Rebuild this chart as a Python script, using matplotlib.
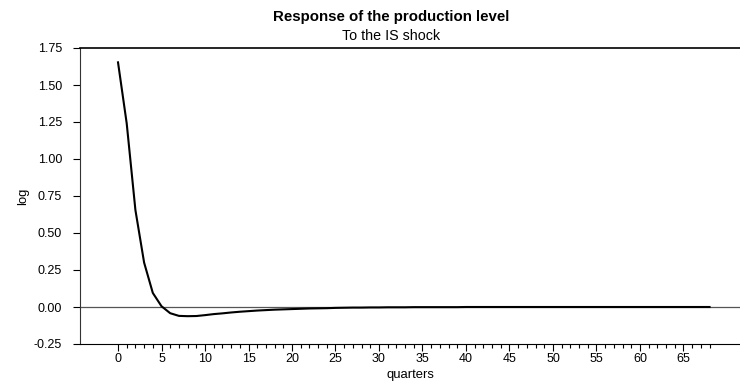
import matplotlib.pyplot as plt
from matplotlib.ticker import MultipleLocator

plt.rcParams['font.family'] = ['Liberation Sans', 'DejaVu Sans']

# impulse response of production level to the IS shock
quarters = list(range(0, 69))
response = [1.653, 1.24, 0.655, 0.30, 0.095, 0.005, -0.042, -0.060, -0.062, -0.061,
            -0.055, -0.048, -0.043, -0.037, -0.032, -0.028, -0.024, -0.021, -0.018, -0.016,
            -0.014, -0.012, -0.010, -0.009, -0.008, -0.006, -0.005, -0.004, -0.004, -0.003,
            -0.003, -0.002, -0.002, -0.002, -0.001, -0.001, -0.001, -0.001, -0.001, -0.001,
            0.0, 0.0, 0.0, 0.0, 0.0, 0.0, 0.0, 0.0, 0.0, 0.0,
            0.0, 0.0, 0.0, 0.0, 0.0, 0.0, 0.0, 0.0, 0.0, 0.0,
            0.0, 0.0, 0.0, 0.0, 0.0, 0.0, 0.0, 0.0, 0.0]

fig = plt.figure(figsize=(7.4, 3.86), dpi=100)
ax = fig.add_axes([80/740, 1 - 344/386, 1 - 80/740, 296/386])

ax.axhline(0, color='#555555', lw=0.9, zorder=1)
ax.plot(quarters, response, color='black', lw=1.5, zorder=2)

ax.set_xlim(-4.37, 71.5)
ax.set_ylim(-0.25, 1.75)

ax.set_xticks(range(0, 69), minor=True)
ax.set_xticks(range(0, 66, 5))
ax.yaxis.set_major_locator(MultipleLocator(0.25))
ax.yaxis.set_major_formatter(plt.FuncFormatter(lambda v, p: f"{v:.2f}"))

ax.tick_params(axis='x', which='major', direction='out', length=5, width=0.8, labelsize=9, pad=1.5)
ax.tick_params(axis='x', which='minor', direction='out', length=3, width=0.8)
ax.tick_params(axis='y', direction='out', length=5, width=0.8, labelsize=9, pad=8)

ax.spines['right'].set_visible(False)
ax.spines['top'].set_linewidth(1.2)
ax.spines['left'].set_color('#333333')

ax.set_xlabel('quarters', fontsize=9.4, labelpad=3)
ax.set_ylabel('log', fontsize=9.4, labelpad=3)

fig.text(391/740, 1 - 17/386, 'Response of the production level', ha='center', va='center',
         fontsize=10.8, fontweight='bold')
fig.text(391/740, 1 - 36/386, 'To the IS shock', ha='center', va='center', fontsize=10.3)

plt.savefig('out.png', dpi=100)
